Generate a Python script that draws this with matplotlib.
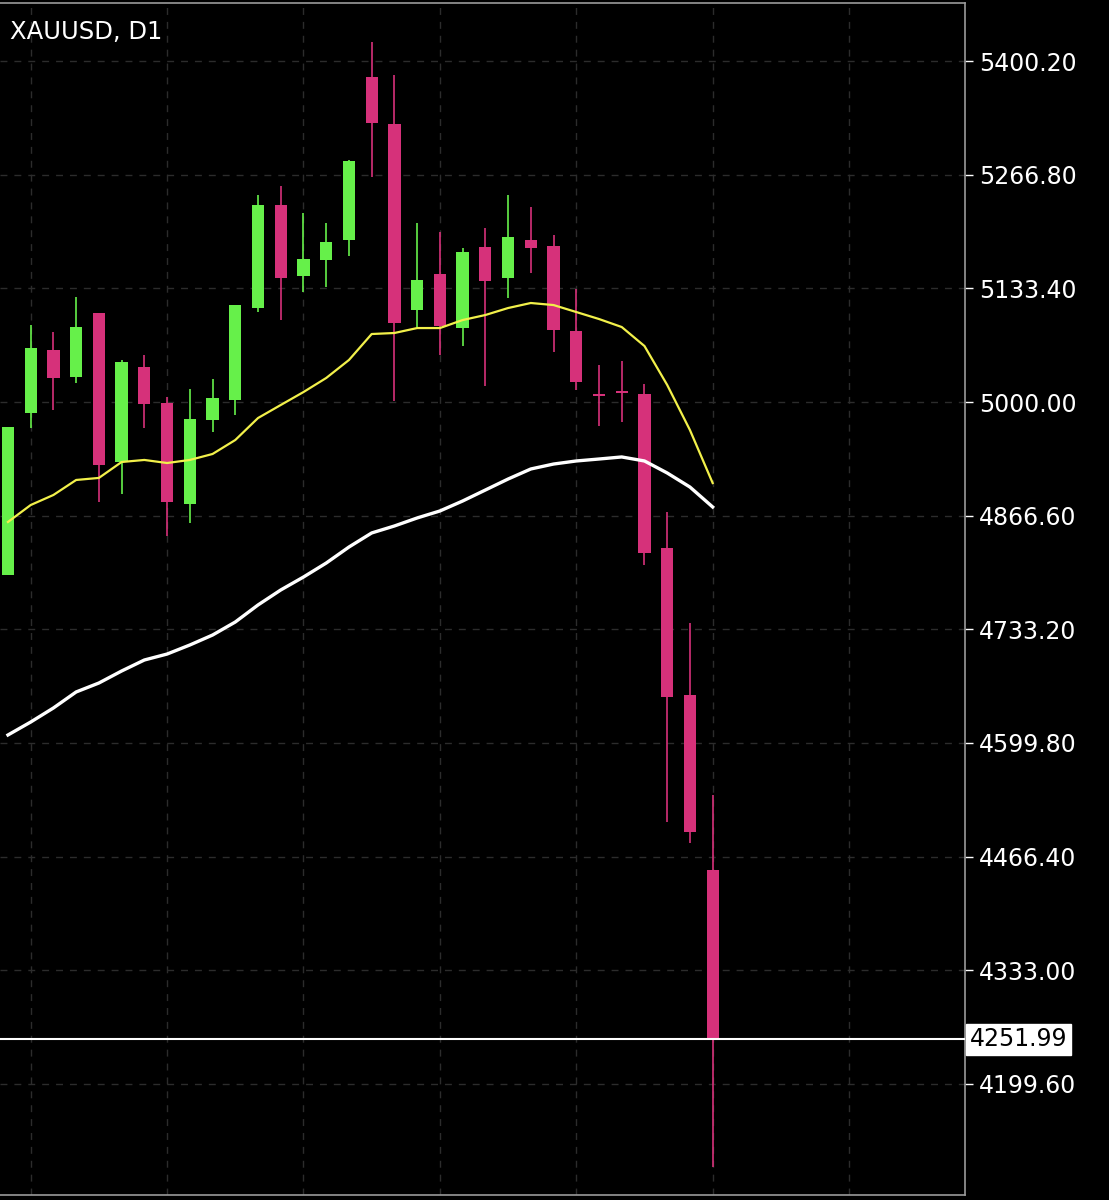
import matplotlib
matplotlib.use("Agg")
import matplotlib.pyplot as plt
import numpy as np

opens  = [4797.0,4987.1,5061.0,5029.3,5104.4,4929.6,5041.1,4998.8,4880.3,4978.9,5002.3,5110.3,5231.2,5147.9,5166.7,5190.1,5381.4,5326.3,5108.0,5150.2,5086.8,5181.9,5145.5,5190.1,5183.1,5083.3,5009.0,5012.5,5009.4,4828.7,4656.1,4450.8]
closes = [4970.7,5063.4,5028.2,5088.0,4926.1,5046.9,4997.7,4882.6,4980.0,5004.7,5113.8,5231.2,5145.5,5167.8,5187.8,5282.8,5327.4,5092.7,5143.2,5089.2,5176.0,5142.0,5193.6,5180.7,5084.5,5023.5,5007.5,5011.0,4822.8,4653.8,4495.3,4251.99]
highs  = [4970.7,5090.4,5082.2,5123.2,5104.4,5049.3,5055.2,5005.9,5015.3,5027.0,5113.8,5242.9,5253.5,5221.8,5210.1,5284.0,5422.5,5383.8,5210.1,5199.5,5180.7,5204.2,5242.9,5228.9,5196.0,5132.6,5043.4,5048.1,5021.1,4870.9,4740.6,4538.8]
lows   = [4797.0,4969.5,4990.6,5022.3,4882.6,4892.0,4969.5,4842.7,4858.0,4964.8,4984.7,5105.6,5096.2,5129.1,5135.0,5171.3,5264.1,5001.2,5088.0,5055.2,5065.7,5018.8,5122.1,5151.4,5058.7,5014.1,4971.8,4976.5,4808.7,4507.1,4482.4,4102.2]
ma_fast = [4859.2,4879.1,4890.9,4908.5,4910.9,4929.6,4932.0,4928.4,4932.0,4939.0,4955.4,4981.2,4996.5,5011.7,5028.2,5049.3,5079.8,5081.0,5086.8,5086.8,5096.2,5102.1,5110.3,5116.2,5113.8,5105.6,5097.4,5088.0,5065.7,5020.0,4967.1,4904.9]
ma_slow = [4609.2,4624.4,4640.9,4659.7,4670.2,4684.3,4697.2,4704.2,4714.8,4726.5,4741.8,4761.8,4779.4,4794.6,4811.0,4829.8,4846.3,4854.5,4863.9,4872.1,4883.8,4896.7,4909.6,4921.4,4927.2,4930.8,4933.1,4935.5,4930.8,4916.7,4900.2,4876.8]
yticks = [5400.20,5266.80,5133.40,5000.00,4866.60,4733.20,4599.80,4466.40,4333.00,4199.60]
last_price = 4251.99
title = "XAUUSD, D1"

GREEN = "#66f04a"; RED = "#d6317a"
fig = plt.figure(figsize=(11.09, 12), dpi=100, facecolor="black")
ax = fig.add_axes([0, 5/1200, 965/1109, 1192/1200], facecolor="black")
n = len(opens)
x = np.arange(n)
ax.set_xlim(-0.35, 42.1)
ax.set_ylim(4069.3, 5468.3)

for gx in range(1, 43, 6):
    ax.axvline(gx, color="#2c2c2c", lw=1, ls=(0, (5, 5)), zorder=0)
for t in yticks:
    ax.axhline(t, color="#2c2c2c", lw=1, ls=(0, (5, 5)), zorder=0)

for i in range(n):
    o, c, h, l = opens[i], closes[i], highs[i], lows[i]
    col = GREEN if c >= o else RED
    ax.vlines(x[i], l, h, color=col, lw=1.2, zorder=2)
    bottom = min(o, c); height = max(abs(c - o), 1.2)
    ax.bar(x[i], height, bottom=bottom, width=0.54, color=col, zorder=3)

ax.plot(x, ma_fast, color="#f2f04a", lw=1.6, zorder=4)
ax.plot(x, ma_slow, color="white", lw=2.4, zorder=4)
ax.axhline(last_price, color="white", lw=1.5, zorder=5)

ax.yaxis.tick_right()
ax.set_yticks(yticks)
ax.set_yticklabels([f"{t:.2f}" for t in yticks])
ax.tick_params(axis="y", colors="white", labelsize=17, length=6, width=1, pad=4)
ax.tick_params(axis="x", bottom=False, labelbottom=False)
ax.spines["left"].set_visible(False)
for s in ["top", "right", "bottom"]:
    ax.spines[s].set_color("#9a9a9a")
    ax.spines[s].set_linewidth(1.2)

ax.text(1.005, (last_price - 4069.3) / (5468.3 - 4069.3), f"{last_price:.2f}",
        transform=ax.transAxes, color="black", fontsize=17, va="center", ha="left",
        bbox=dict(boxstyle="square,pad=0.15", fc="white", ec="white"), zorder=10)
ax.text(10, 1168, title, transform=None, color="white", fontsize=17.5, va="center", ha="left")
fig.savefig("out.png", dpi=100, facecolor="black")
